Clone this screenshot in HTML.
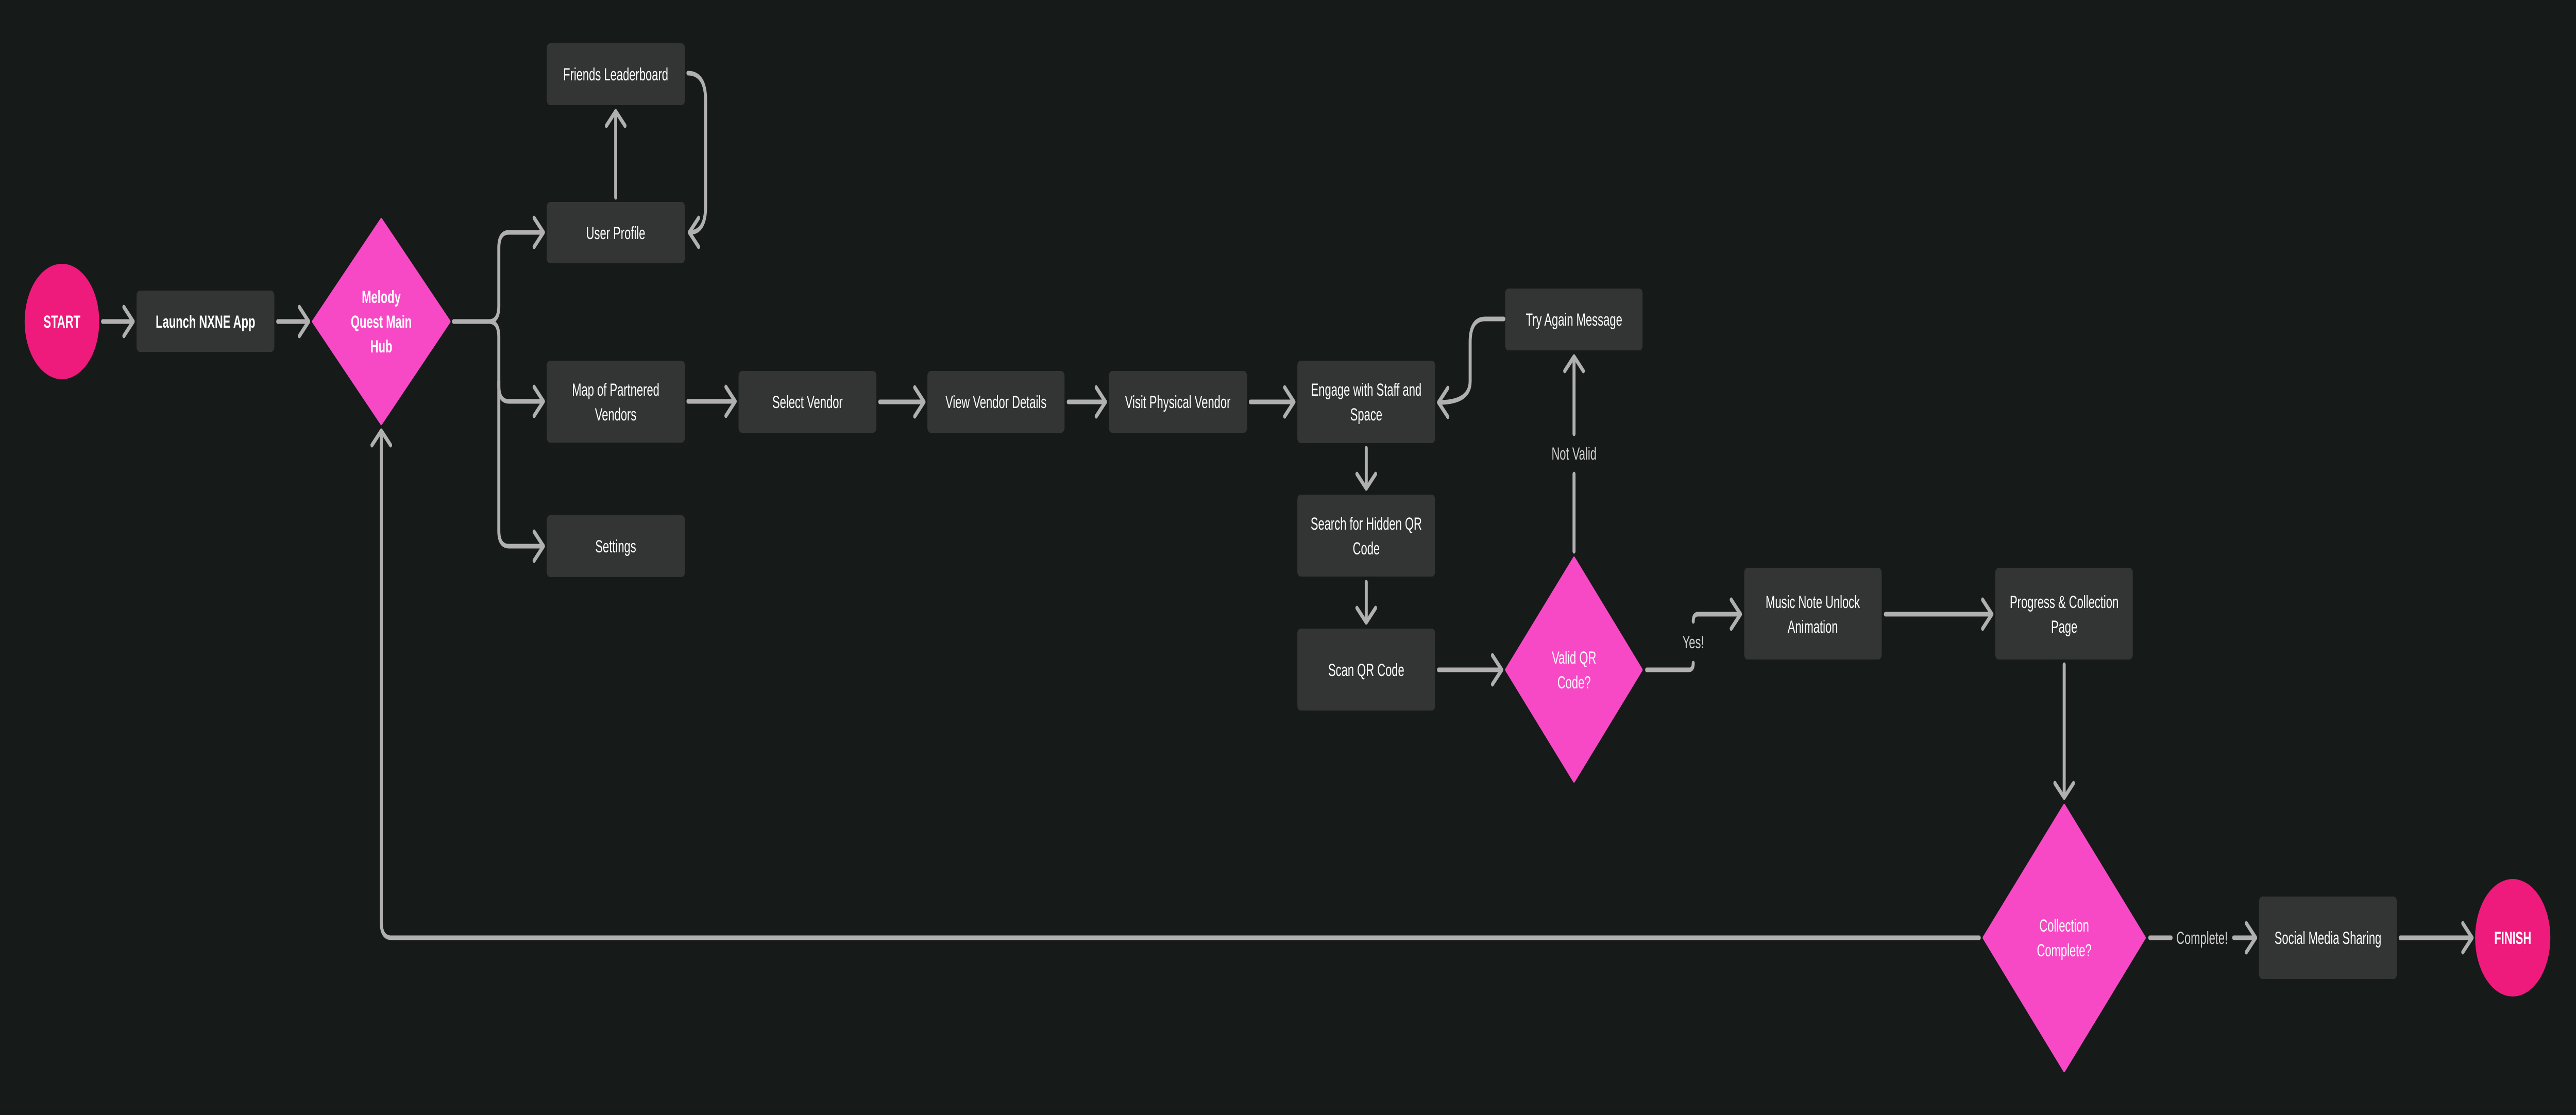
<!DOCTYPE html>
<html><head><meta charset="utf-8"><style>
html,body{margin:0;padding:0;background:#161a19;width:100%;height:100%;overflow:hidden;}
svg{display:block;width:100vw;height:100vh;}
text{font-family:"Liberation Sans",sans-serif;font-size:34px;fill:#fff;text-anchor:middle;}
.b{font-weight:bold}
.l{fill:#d0d0d0}
</style></head><body>
<svg viewBox="0 0 7736 2164" preserveAspectRatio="none" xmlns="http://www.w3.org/2000/svg">
<rect width="7736" height="2164" fill="#161a19"/>
<g fill="#333434">
<rect x="410" y="564" width="414" height="119" rx="10"/>
<rect x="1642" y="84" width="415" height="120" rx="10"/>
<rect x="1642" y="392" width="415" height="119" rx="10"/>
<rect x="1642" y="700" width="415" height="159" rx="10"/>
<rect x="1642" y="1000" width="415" height="120" rx="10"/>
<rect x="2218" y="720" width="414" height="120" rx="10"/>
<rect x="2785" y="720" width="412" height="120" rx="10"/>
<rect x="3330" y="720" width="415" height="120" rx="10"/>
<rect x="3896" y="700" width="414" height="160" rx="10"/>
<rect x="3896" y="960" width="414" height="159" rx="10"/>
<rect x="3896" y="1220" width="414" height="159" rx="10"/>
<rect x="4520" y="560" width="413" height="120" rx="10"/>
<rect x="5238" y="1102" width="413" height="178" rx="10"/>
<rect x="5992" y="1102" width="413" height="178" rx="10"/>
<rect x="6784" y="1740" width="414" height="160" rx="10"/>
</g>
<g fill="#ee1a7c">
<circle cx="186" cy="624" r="112"/>
<ellipse cx="7546" cy="1820" rx="113" ry="114"/>
</g>
<g fill="#f749c6" stroke="#f749c6" stroke-width="6" stroke-linejoin="round">
<polygon points="1145,426 1350,624 1145,822 940,624"/>
<polygon points="4727,1083 4930,1300 4727,1516 4523,1300"/>
<polygon points="6199,1563 6441,1820 6199,2078 5957,1820"/>
</g>
<g fill="none" stroke="#b0b0b0" stroke-width="9" stroke-linecap="round" stroke-linejoin="round">
<path d="M308 624H398M372 596L400 624L372 652"/>
<path d="M834 624H925M899 596L927 624L899 652"/>
<path d="M1362 624H1468Q1498 624 1498 594V481Q1498 451 1528 451H1630M1604 423L1632 451L1604 479"/>
<path d="M1468 624Q1498 624 1498 654V749Q1498 779 1528 779H1630M1604 751L1632 779L1604 807"/>
<path d="M1498 740V1030Q1498 1060 1528 1060H1630M1604 1032L1632 1060L1604 1088"/>
<path d="M1849 383V216M1821 244L1849 216L1877 244"/>
<path d="M2066 142Q2119 142 2119 195V400Q2119 451 2072 451M2098 423L2070 451L2098 479"/>
<path d="M2066 779H2206M2180 751L2208 779L2180 807"/>
<path d="M2642 780H2773M2747 752L2775 780L2747 808"/>
<path d="M3208 780H3318M3292 752L3320 780L3292 808"/>
<path d="M3755 780H3884M3858 752L3886 780L3858 808"/>
<path d="M4103 870V948M4075 920L4103 948L4131 920"/>
<path d="M4103 1130V1208M4075 1180L4103 1208L4131 1180"/>
<path d="M4320 1300H4508M4482 1272L4510 1300L4482 1328"/>
<path d="M4727 1070V920M4727 842V692M4699 720L4727 692L4755 720"/>
<path d="M4516 619H4460Q4415 619 4415 664V740Q4415 781 4322 781M4348 753L4320 781L4348 809"/>
<path d="M4945 1300H5072Q5085 1300 5085 1287M5085 1206Q5085 1192 5099 1192H5225M5199 1164L5227 1192L5199 1220"/>
<path d="M5662 1192H5980M5954 1164L5982 1192L5954 1220"/>
<path d="M6199 1290V1548M6171 1520L6199 1548L6227 1520"/>
<path d="M6456 1820H6520M6708 1820H6772M6746 1792L6774 1820L6746 1848"/>
<path d="M7208 1820H7422M7396 1792L7424 1820L7396 1848"/>
<path d="M5944 1820H1175Q1145 1820 1145 1790V836M1117 864L1145 836L1173 864"/>
</g>
<text x="186" y="636" class="b">START</text>
<text x="617" y="636" class="b">Launch NXNE App</text>
<text x="1145" y="588" class="b">Melody</text>
<text x="1145" y="636" class="b">Quest Main</text>
<text x="1145" y="684" class="b">Hub</text>
<text x="1849" y="156">Friends Leaderboard</text>
<text x="1849" y="464">User Profile</text>
<text x="1849" y="768">Map of Partnered</text>
<text x="1849" y="816">Vendors</text>
<text x="1849" y="1072">Settings</text>
<text x="2425" y="792">Select Vendor</text>
<text x="2991" y="792">View Vendor Details</text>
<text x="3537" y="792">Visit Physical Vendor</text>
<text x="4103" y="768">Engage with Staff and</text>
<text x="4103" y="816">Space</text>
<text x="4103" y="1028">Search for Hidden QR</text>
<text x="4103" y="1076">Code</text>
<text x="4103" y="1312">Scan QR Code</text>
<text x="4727" y="632">Try Again Message</text>
<text x="4727" y="892" class="l">Not Valid</text>
<text x="4727" y="1288">Valid QR</text>
<text x="4727" y="1336">Code?</text>
<text x="5085" y="1258" class="l">Yes!</text>
<text x="5444" y="1180">Music Note Unlock</text>
<text x="5444" y="1228">Animation</text>
<text x="6199" y="1180">Progress &amp; Collection</text>
<text x="6199" y="1228">Page</text>
<text x="6199" y="1808">Collection</text>
<text x="6199" y="1856">Complete?</text>
<text x="6613" y="1832" class="l">Complete!</text>
<text x="6991" y="1832">Social Media Sharing</text>
<text x="7546" y="1832" class="b">FINISH</text>
</svg>
</body></html>
